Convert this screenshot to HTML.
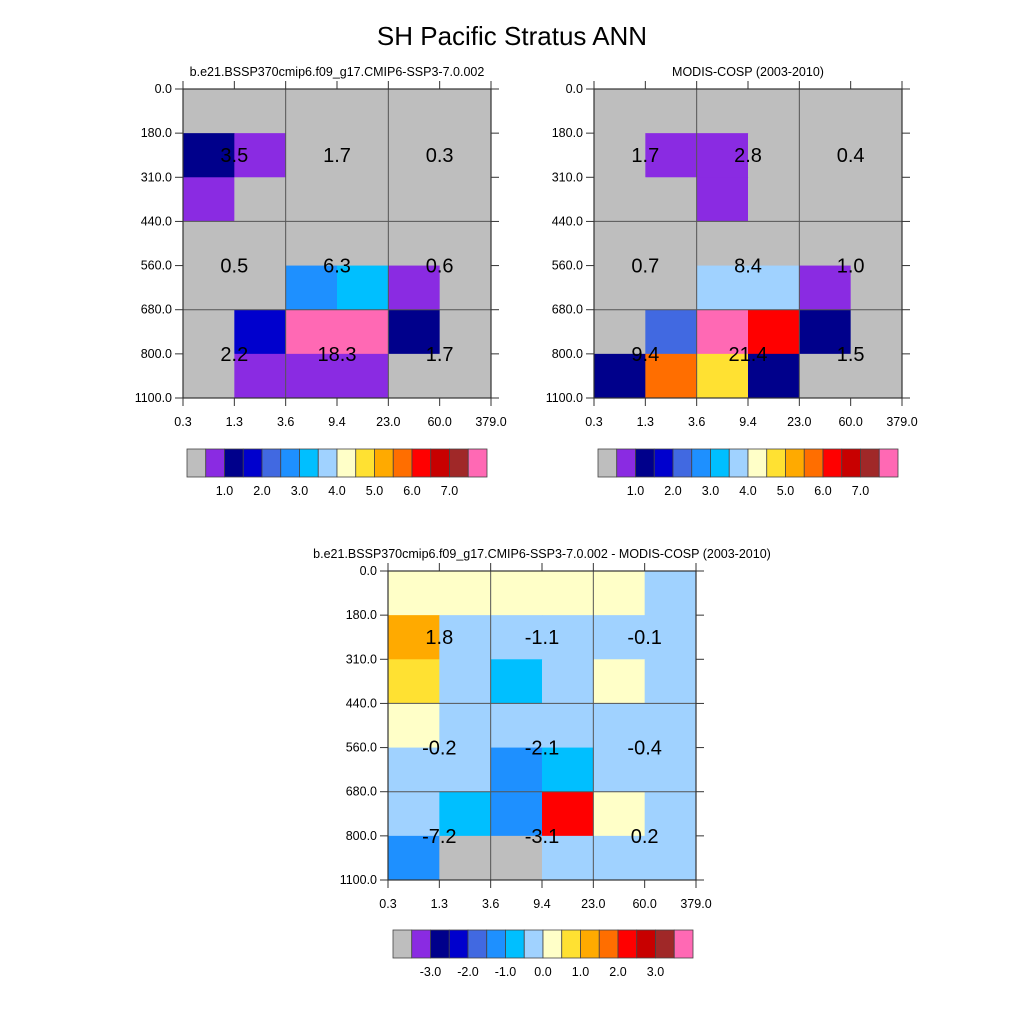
<!DOCTYPE html>
<html><head><meta charset="utf-8"><style>
body{margin:0;background:#fff;}
svg{display:block;font-family:"Liberation Sans",Arial,sans-serif;}
</style></head><body>
<svg id="chart" width="1024" height="1024" viewBox="0 0 1024 1024">
<text x="512" y="45" text-anchor="middle" font-size="26">SH Pacific Stratus ANN</text>
</svg>
<script>
const xTicks = ["0.3","1.3","3.6","9.4","23.0","60.0","379.0"];
const yTicks = ["0.0","180.0","310.0","440.0","560.0","680.0","800.0","1100.0"];
const palette = ["#BEBEBE","#8A2BE2","#00008B","#0000CD","#4169E1","#1E90FF","#00BFFF","#A0D2FF","#FFFFC8","#FFE132","#FFAA00","#FF6E00","#FF0000","#C80000","#A02828","#FF69B4"];
const levelsAbs = [0.5,1,1.5,2,2.5,3,3.5,4,4.5,5,5.5,6,6.5,7,7.5];
const levelsDiff = [-3.5,-3,-2.5,-2,-1.5,-1,-0.5,0,0.5,1,1.5,2,2.5,3,3.5];
const cbLabelsAbs = ["1.0","2.0","3.0","4.0","5.0","6.0","7.0"];
const cbLabelsDiff = ["-3.0","-2.0","-1.0","0.0","1.0","2.0","3.0"];
const modelGrid = [
[0.2,0.2,0.2,0.2,0.2,0.2],
[1.2,0.7,0.2,0.2,0.2,0.2],
[0.7,0.2,0.2,0.2,0.2,0.2],
[0.2,0.2,0.2,0.2,0.2,0.2],
[0.2,0.2,2.7,3.2,0.7,0.2],
[0.2,1.7,8.0,8.2,1.2,0.2],
[0.2,0.7,0.8,0.6,0.2,0.2]];
const obsGrid = [
[0.2,0.2,0.2,0.2,0.2,0.2],
[0.2,0.7,0.8,0.2,0.2,0.2],
[0.2,0.2,0.7,0.2,0.2,0.2],
[0.2,0.2,0.2,0.2,0.2,0.2],
[0.2,0.2,3.7,3.8,0.7,0.2],
[0.2,2.2,7.9,6.2,1.2,0.2],
[1.3,5.7,4.7,1.1,0.2,0.2]];
const diffGrid = [
[0.2,0.2,0.2,0.2,0.2,-0.2],
[1.2,-0.2,-0.2,-0.2,-0.2,-0.2],
[0.7,-0.2,-0.7,-0.2,0.2,-0.2],
[0.2,-0.2,-0.2,-0.2,-0.2,-0.2],
[-0.2,-0.2,-1.2,-0.7,-0.2,-0.2],
[-0.2,-0.7,-1.2,2.2,0.2,-0.2],
[-1.2,-4.0,-4.2,-0.2,-0.1,-0.3]];
const modelLabels = ["3.5","1.7","0.3","0.5","6.3","0.6","2.2","18.3","1.7"];
const obsLabels = ["1.7","2.8","0.4","0.7","8.4","1.0","9.4","21.4","1.5"];
const diffLabels = ["1.8","-1.1","-0.1","-0.2","-2.1","-0.4","-7.2","-3.1","0.2"];

const NS="http://www.w3.org/2000/svg";
const svg=document.getElementById('chart');
function el(tag,attrs,parent){const e=document.createElementNS(NS,tag);for(const k in attrs)e.setAttribute(k,attrs[k]);(parent||svg).appendChild(e);return e;}
function colorFor(v,levels){let i=0;while(i<levels.length&&v>=levels[i])i++;return palette[i];}

function panel(name,x0,y0,title,grid,labels,levels,cbLabels,cbx,cby){
  const W=308,H=309,cw=W/6,rh=H/7;
  const g=el('g',{});
  
  
  const t=el('text',{x:x0+W/2,y:y0-13,'text-anchor':'middle','font-size':12.5},g);
  t.textContent=title;
  
  
  const xs=c=>x0+c*cw, ys=r=>y0+r*rh;
  for(let r=0;r<grid.length;r++)for(let c=0;c<grid[r].length;c++){
    const rc=el('rect',{x:xs(c),y:ys(r),width:cw+0.5,height:rh+0.5,fill:colorFor(grid[r][c],levels)},g);
    
    
  }
  [2,4].forEach(c=>el('line',{x1:xs(c),y1:y0,x2:xs(c),y2:y0+H,stroke:'#555','stroke-width':1},g));
  [3,5].forEach(r=>el('line',{x1:x0,y1:ys(r),x2:x0+W,y2:ys(r),stroke:'#555','stroke-width':1},g));
  el('rect',{x:x0,y:y0,width:W,height:H,fill:'none',stroke:'#333','stroke-width':1.2},g);
  xTicks.forEach((lab,i)=>{
    const x=xs(i);
    el('line',{x1:x,y1:y0,x2:x,y2:y0-8,stroke:'#333'},g);
    el('line',{x1:x,y1:y0+H,x2:x,y2:y0+H+8,stroke:'#333'},g);
    const tx=el('text',{x:x,y:y0+H+28,'text-anchor':'middle','font-size':12.5},g);
    tx.textContent=lab;
    
    
  });
  yTicks.forEach((lab,i)=>{
    const y=ys(i);
    el('line',{x1:x0,y1:y,x2:x0-8,y2:y,stroke:'#333'},g);
    el('line',{x1:x0+W,y1:y,x2:x0+W+8,y2:y,stroke:'#333'},g);
    const ty=el('text',{x:x0-11,y:y+4,'text-anchor':'end','font-size':12.5},g);
    ty.textContent=lab;
    
    
  });
  const lr=[1.5,4,6];
  labels.forEach((lab,i)=>{
    const r=lr[Math.floor(i/3)],c=(i%3)*2+1;
    const tv=el('text',{x:xs(c),y:ys(r)+7,'text-anchor':'middle','font-size':20},g);
    tv.textContent=lab;
    
    
  });
  const cbW=300,bw=cbW/16;
  const cb=el('g',{},g);
  
  
  for(let i=0;i<16;i++){
    el('rect',{x:cbx+i*bw,y:cby,width:bw,height:28,fill:palette[i],stroke:'#444','stroke-width':0.8},cb);
  }
  cbLabels.forEach((lab,j)=>{
    const tl=el('text',{x:cbx+(2+2*j)*bw,y:cby+46,'text-anchor':'middle','font-size':12.5},cb);
    tl.textContent=lab;
    
    
  });
}
panel('model-panel',183,89,'b.e21.BSSP370cmip6.f09_g17.CMIP6-SSP3-7.0.002',modelGrid,modelLabels,levelsAbs,cbLabelsAbs,187,449);
panel('obs-panel',594,89,'MODIS-COSP (2003-2010)',obsGrid,obsLabels,levelsAbs,cbLabelsAbs,598,449);
panel('diff-panel',388,571,'b.e21.BSSP370cmip6.f09_g17.CMIP6-SSP3-7.0.002 - MODIS-COSP (2003-2010)',diffGrid,diffLabels,levelsDiff,cbLabelsDiff,393,930);
</script>
</body></html>
